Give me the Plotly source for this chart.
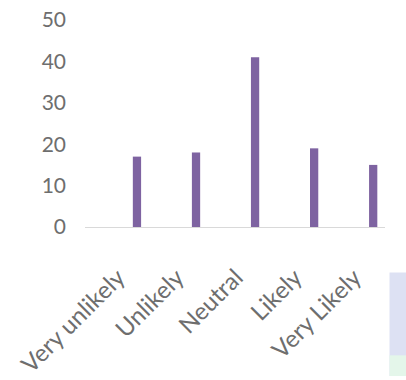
import plotly.graph_objects as go

categories = ["Very unlikely", "Unlikely", "Neutral", "Likely", "Very Likely"]
responses = [17, 18, 41, 19, 15]
y_ticks = [0, 10, 20, 30, 40, 50]

fig = go.Figure(
    go.Bar(
        x=categories,
        y=responses,
        width=0.14,
        marker=dict(color="#7E63A1", line=dict(width=0)),
    )
)

# faint coloured panel along the right edge of the page
fig.add_shape(type="rect", xref="paper", yref="paper",
              x0=1.015, x1=1.08, y0=-0.72, y1=-0.22,
              fillcolor="#DDE1F3", line=dict(width=0), layer="below")
fig.add_shape(type="rect", xref="paper", yref="paper",
              x0=1.015, x1=1.08, y0=-0.72, y1=-0.62,
              fillcolor="#E4F6EA", line=dict(width=0), layer="below")

fig.update_layout(
    width=406,
    height=380,
    margin=dict(l=85, r=21, t=20, b=153),
    paper_bgcolor="white",
    plot_bgcolor="white",
    showlegend=False,
    font=dict(family="Lato, Open Sans, sans-serif", size=22, color="#6E6E6E"),
)

fig.update_xaxes(
    type="category",
    range=[-0.88, 4.2],
    tickangle=-45,
    tickfont=dict(size=24),
    showline=True,
    linecolor="#D9D9D9",
    linewidth=1,
    ticks="",
    showgrid=False,
    zeroline=False,
    ticklabelshift=-19,
    ticklabelstandoff=26,
    automargin=False,
)

fig.update_yaxes(
    range=[0, 50],
    tickvals=y_ticks,
    tickfont=dict(size=21),
    showgrid=False,
    zeroline=False,
    showline=False,
    ticks="",
    ticklabelstandoff=18,
    automargin=False,
)

fig.write_html("out.html")
